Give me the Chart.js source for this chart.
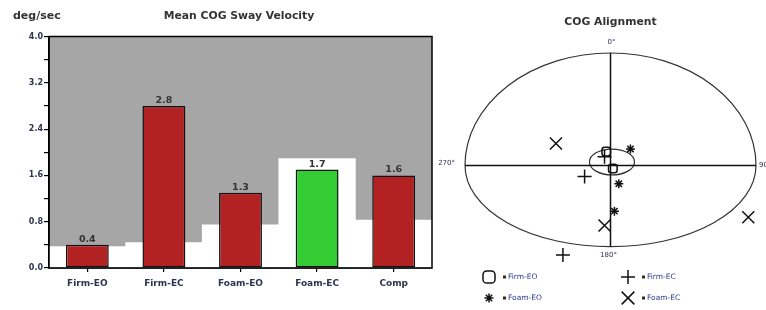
<!DOCTYPE html>
<html><head><meta charset="utf-8">
<script src="https://cdn.jsdelivr.net/npm/chart.js"></script>
<style>
html,body{margin:0;padding:0;background:#fff;width:766px;height:310px;overflow:hidden}
canvas{position:absolute;top:0}
#left{left:0}
#right{left:434px}
</style></head><body>
<canvas id="left" width="440" height="310"></canvas>
<canvas id="right" width="332" height="310"></canvas>
<script>
// ---- Left chart data ----
const categories = ['Firm-EO', 'Firm-EC', 'Foam-EO', 'Foam-EC', 'Comp'];
const swayValues = [0.4, 2.8, 1.3, 1.7, 1.6];
const normalLimits = [0.37, 0.44, 0.745, 1.89, 0.83];
const barColors = ['#b22222', '#b22222', '#b22222', '#33cc33', '#b22222'];
const yTickLabels = [0.0, 0.8, 1.6, 2.4, 3.2, 4.0];

// ---- Right chart data (COG position, % of limits) ----
const seriesNames = ['Firm-EO', 'Firm-EC', 'Foam-EO', 'Foam-EC'];
const firmEO = [{x: -2.9, y: 12.3}, {x: 1.6, y: -2.7}];
const firmEC = [{x: -4.1, y: 7.8}, {x: -17.8, y: -9.8}, {x: -32.7, y: -79.6}];
const foamEO = [{x: 13.7, y: 14.7}, {x: 5.7, y: -16.3}, {x: 2.7, y: -40.6}];
const foamEC = [{x: -37.5, y: 19.6}, {x: 94.7, y: -46.0}, {x: -4.1, y: -53.3}];
const limitFront = 100, limitBack = -72.2, limitSide = 100;
const innerCenter = [1.0, 3.1];
const innerRadii = [15.5, 11.5];
const angleLabels = ['0°', '90°', '180°', '270°'];

const TXT = '#2e3350';
const FONT = '"DejaVu Sans", Verdana, sans-serif';

const leftDecor = {
  id: 'leftDecor',
  beforeDraw(chart) {
    const {ctx, chartArea: a} = chart;
    ctx.save();
    ctx.fillStyle = '#a6a6a6';
    ctx.fillRect(a.left, a.top, a.right - a.left, a.bottom - a.top);
    ctx.restore();
  },
  afterDatasetsDraw(chart) {
    const {ctx, chartArea: a} = chart;
    ctx.save();
    ctx.strokeStyle = '#000';
    ctx.lineWidth = 1.5;
    ctx.strokeRect(a.left, a.top, a.right - a.left, a.bottom - a.top);
    const meta = chart.getDatasetMeta(1);
    ctx.fillStyle = '#333';
    ctx.font = 'bold 9.5px ' + FONT;
    ctx.textAlign = 'center';
    ctx.textBaseline = 'alphabetic';
    meta.data.forEach((el, i) => {
      ctx.fillText(swayValues[i].toFixed(1), el.x, el.y - 3);
    });
    ctx.restore();
  },
  afterDraw(chart) {
    const {ctx} = chart;
    ctx.save();
    ctx.fillStyle = '#333';
    ctx.textBaseline = 'middle';
    ctx.textAlign = 'left';
    ctx.font = 'bold 11px ' + FONT;
    ctx.fillText('deg/sec', 13, 16);
    ctx.textAlign = 'center';
    ctx.font = 'bold 10.8px ' + FONT;
    ctx.fillText('Mean COG Sway Velocity', 239, 16);
    ctx.restore();
  }
};

new Chart(document.getElementById('left'), {
  type: 'bar',
  data: {
    labels: categories,
    datasets: [
      {
        label: 'Normal',
        data: normalLimits,
        backgroundColor: '#ffffff',
        borderWidth: 0,
        barPercentage: 1,
        categoryPercentage: 1,
        grouped: false,
        order: 2
      },
      {
        label: 'Sway',
        data: swayValues,
        backgroundColor: barColors,
        borderColor: '#111',
        borderWidth: 1.5,
        borderSkipped: false,
        barPercentage: 0.56,
        categoryPercentage: 1,
        grouped: false,
        order: 1
      }
    ]
  },
  options: {
    responsive: false,
    animation: false,
    devicePixelRatio: 1,
    layout: {padding: {top: 36.5, right: 8, left: 0, bottom: 0}},
    plugins: {legend: {display: false}, tooltip: {enabled: false}},
    scales: {
      x: {
        afterFit(s) { s.height = 42; },
        grid: {offset: false, drawOnChartArea: false, tickLength: 4, color: '#000', lineWidth: 1.2},
        border: {display: true, color: '#000', width: 1.5},
        ticks: {color: TXT, font: {family: FONT, size: 9, weight: 'bold'}, padding: 6, maxRotation: 0}
      },
      y: {
        min: 0, max: 4,
        afterFit(s) { s.width = 49; },
        grid: {drawOnChartArea: false, tickLength: 5, color: '#000', lineWidth: 1.2},
        border: {display: true, color: '#000', width: 1.5},
        ticks: {
          stepSize: 0.4,
          autoSkip: false,
          padding: 1,
          color: TXT,
          font: {family: FONT, size: 8, weight: 'bold'},
          callback(v) {
            const r = Math.round(v * 10) / 10;
            return yTickLabels.some(t => Math.abs(t - r) < 1e-6) ? r.toFixed(1) : '';
          }
        }
      }
    }
  },
  plugins: [leftDecor]
});

// ---- Right chart ----
const styles = [
  {pointStyle: 'rectRounded', radius: 5, lr: 7},
  {pointStyle: 'cross', radius: 7, lr: 7},
  {pointStyle: 'star', radius: 4.5, lr: 4.5},
  {pointStyle: 'crossRot', radius: 8.5, lr: 9}
];

const rightDecor = {
  id: 'rightDecor',
  beforeDatasetsDraw(chart) {
    const {ctx} = chart;
    const xs = chart.scales.x, ys = chart.scales.y;
    const cx = xs.getPixelForValue(0), cy = ys.getPixelForValue(0);
    const rx = xs.getPixelForValue(limitSide) - cx;
    const top = ys.getPixelForValue(limitFront), bot = ys.getPixelForValue(limitBack);
    ctx.save();
    ctx.strokeStyle = '#333';
    ctx.lineWidth = 1.2;
    ctx.beginPath();
    ctx.ellipse(cx, cy, rx, cy - top, 0, Math.PI, 2 * Math.PI);
    ctx.stroke();
    ctx.beginPath();
    ctx.ellipse(cx, cy, rx, bot - cy, 0, 0, Math.PI);
    ctx.stroke();
    // inner ellipse
    const icx = xs.getPixelForValue(innerCenter[0]), icy = ys.getPixelForValue(innerCenter[1]);
    const irx = xs.getPixelForValue(innerCenter[0] + innerRadii[0]) - icx;
    const iry = icy - ys.getPixelForValue(innerCenter[1] + innerRadii[1]);
    ctx.beginPath();
    ctx.ellipse(icx, icy, irx, iry, 0, 0, 2 * Math.PI);
    ctx.stroke();
    // axes
    ctx.strokeStyle = '#111';
    ctx.lineWidth = 1.5;
    ctx.beginPath();
    ctx.moveTo(cx, top); ctx.lineTo(cx, bot);
    ctx.moveTo(cx - rx, cy); ctx.lineTo(cx + rx, cy);
    ctx.stroke();
    // angle labels
    ctx.fillStyle = TXT;
    ctx.font = '7px ' + FONT;
    ctx.textBaseline = 'middle';
    ctx.textAlign = 'center';
    ctx.fillText(angleLabels[0], cx + 1, top - 11);
    ctx.fillText(angleLabels[2], cx - 2, bot + 8);
    ctx.textAlign = 'right';
    ctx.fillText(angleLabels[3], cx - rx - 10, cy - 2);
    ctx.textAlign = 'left';
    ctx.fillText(angleLabels[1], cx + rx + 3, cy);
    // title
    ctx.fillStyle = '#333';
    ctx.font = 'bold 10.8px ' + FONT;
    ctx.textAlign = 'center';
    ctx.fillText('COG Alignment', cx, 22);
    ctx.restore();
  },
  afterDraw(chart) {
    const {ctx} = chart;
    const colX = [55, 194], rowY = [277, 298];
    ctx.save();
    chart.data.datasets.forEach((ds, i) => {
      const x = colX[i % 2], y = rowY[Math.floor(i / 2)];
      ctx.strokeStyle = '#111';
      ctx.fillStyle = 'rgba(0,0,0,0)';
      ctx.lineWidth = 1.5;
      Chart.helpers.drawPoint(ctx, {pointStyle: styles[i].pointStyle, radius: styles[i].lr, borderWidth: 1.5, rotation: 0}, x, y);
      ctx.fillStyle = '#3a2a10';
      ctx.fillRect(x + 14, y - 1.5, 3, 3);
      ctx.fillStyle = '#2b3a8a';
      ctx.font = '7.5px ' + FONT;
      ctx.textAlign = 'left';
      ctx.textBaseline = 'middle';
      ctx.fillText(ds.label, x + 19, y);
    });
    ctx.restore();
  }
};

const pointSets = [firmEO, firmEC, foamEO, foamEC];
new Chart(document.getElementById('right'), {
  type: 'scatter',
  data: {
    datasets: pointSets.map((pts, i) => ({
      label: seriesNames[i],
      data: pts,
      pointStyle: styles[i].pointStyle,
      pointRadius: styles[i].radius,
      borderColor: '#111',
      backgroundColor: 'rgba(0,0,0,0)',
      borderWidth: 1.5,
      clip: false
    }))
  },
  options: {
    responsive: false,
    animation: false,
    devicePixelRatio: 1,
    layout: {padding: {top: 53, bottom: 63.3, left: 31, right: 9}},
    plugins: {legend: {display: false}, tooltip: {enabled: false}},
    scales: {
      x: {type: 'linear', min: -limitSide, max: limitSide, display: false},
      y: {type: 'linear', min: limitBack, max: limitFront, display: false}
    }
  },
  plugins: [rightDecor]
});
</script>
</body></html>
